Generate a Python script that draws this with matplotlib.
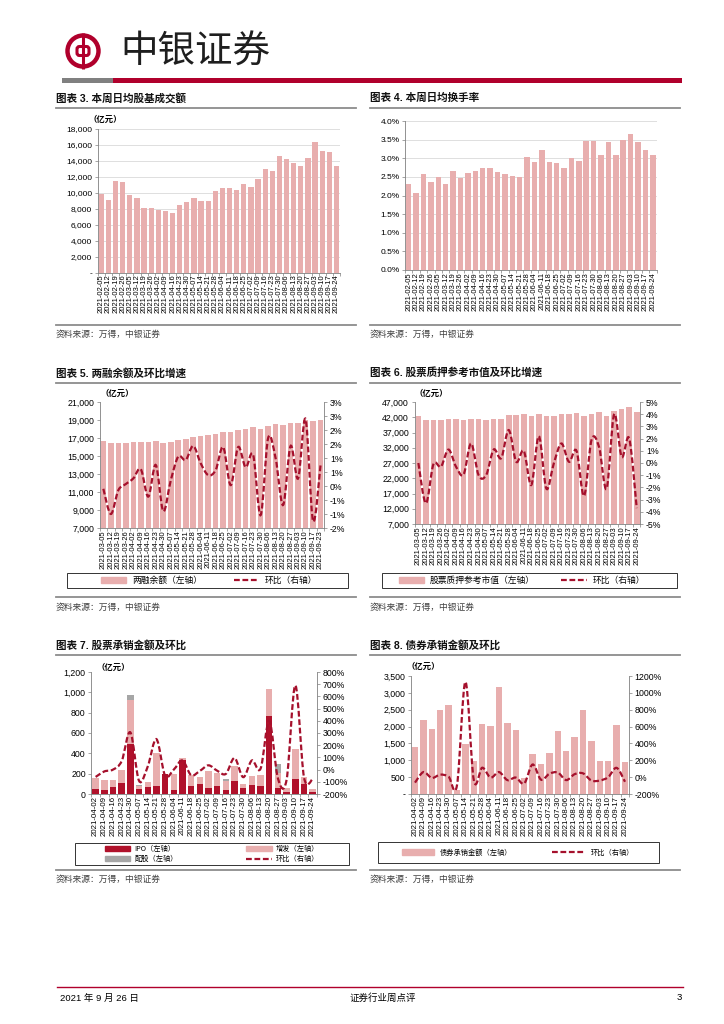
import numpy as np
import pandas as pd
import matplotlib
matplotlib.use('Agg')
import matplotlib.pyplot as plt
from matplotlib.path import Path
from matplotlib.patches import PathPatch, Patch, Rectangle, Circle, FancyBboxPatch
from matplotlib.lines import Line2D

plt.rcParams['font.family'] = ['Liberation Sans', 'Noto Sans CJK SC', 'DejaVu Sans']
CJK = ['Noto Sans CJK SC', 'DejaVu Sans']

# ---- data ----
weeks34 = [d.strftime('%Y-%m-%d') for d in pd.date_range('2021-02-05', periods=34, freq='7D')]
vol3 = [9800, 9100, 11500, 11300, 9700, 9400, 8100, 8100, 7800, 7700, 7500, 8500, 8900, 9400, 9000, 9000,
        10200, 10600, 10550, 10300, 11100, 10700, 11700, 13000, 12700, 14600, 14250, 13700, 13300, 14300,
        16400, 15300, 15100, 13400]
turn4 = [2.30, 2.08, 2.57, 2.35, 2.50, 2.30, 2.66, 2.48, 2.60, 2.66, 2.75, 2.73, 2.64, 2.58, 2.52, 2.51,
         3.03, 2.89, 3.23, 2.90, 2.86, 2.73, 3.01, 2.92, 3.45, 3.46, 3.08, 3.44, 3.09, 3.49, 3.66, 3.44,
         3.22, 3.10]

dates5 = [d.strftime('%Y-%m-%d') for d in pd.date_range('2021-03-05', periods=29, freq='7D')] + ['2021-09-23']
margin5 = [16700, 16500, 16500, 16500, 16550, 16600, 16600, 16700, 16500, 16550, 16800, 16900, 17100, 17250,
           17350, 17450, 17650, 17650, 17900, 18050, 18250, 18050, 18350, 18550, 18400, 18650, 18700, 19050,
           18900, 19000]
chg5 = [-0.1, -1.0, -0.15, 0.07, 0.27, 0.6, -0.38, 0.75, -0.9, 0.2, 1.05, 0.93, 1.43, 0.81, 0.39, 0.57,
        1.39, 0.03, 1.39, 0.67, 1.11, -1.04, 1.71, 0.99, -0.68, 1.43, 0.27, 2.39, -1.25, 0.75]
ticks5r = [-1.5, -1.0, -0.5, 0.0, 0.5, 1.0, 1.5, 2.0, 2.5, 3.0]
labels5r = ['-2%', '-1%', '-1%', '0%', '1%', '1%', '2%', '2%', '3%', '3%']

dates6 = [d.strftime('%Y-%m-%d') for d in pd.date_range('2021-03-05', periods=30, freq='7D')]
pledge6 = [42500, 41200, 41200, 41000, 41400, 41400, 41000, 41500, 41300, 41100, 41300, 41500, 42700, 42700,
           43000, 42300, 43200, 42300, 42300, 43000, 43000, 43500, 42300, 43000, 43600, 42500, 44200, 44600,
           45300, 43700]
chg6 = [0.0, -3.3, -0.1, -0.3, 1.1, -0.3, -0.95, 1.6, -1.0, -1.0, 1.1, 0.4, 2.7, 0.1, 1.0, -1.8, 2.2, -2.1,
        0.0, 1.6, 0.1, 1.0, -2.7, 1.9, 1.3, -2.1, 4.0, 0.5, 2.0, -3.7]

weeks26 = [d.strftime('%Y-%m-%d') for d in pd.date_range('2021-04-02', periods=26, freq='7D')]
ipo7 = [50, 40, 65, 110, 490, 45, 65, 75, 195, 35, 335, 80, 95, 60, 75, 35, 125, 60, 90, 80, 770, 60, 20, 145, 100, 20]
seo7 = [110, 100, 75, 130, 430, 30, 50, 325, 5, 165, 15, 110, 75, 170, 135, 95, 155, 40, 90, 110, 260, 150, 35, 295, 70, 25]
rights7 = [0, 0, 0, 0, 55, 15, 0, 0, 0, 0, 0, 0, 0, 0, 0, 15, 0, 0, 0, 0, 0, 85, 0, 0, 0, 0]
chg7 = [-60, -15, 0, 70, 305, -92, 25, 250, -50, 0, 75, -46, -11, 35, -9, -35, 95, -62, 75, 8, 400, -72, -82, 690, -62, -78]

bond8 = [1400, 2200, 1930, 2500, 2630, 120, 1490, 990, 2080, 2020, 3170, 2100, 1900, 480, 1200, 880, 1230,
         1880, 1270, 1680, 2490, 1560, 980, 980, 2050, 950]
chg8 = [-65, 60, -10, 30, 5, -95, 1130, -35, 112, -5, 60, -35, -5, -75, 150, -30, 40, 55, -35, 35, 45, -40,
        -40, 0, 110, -55]

# ---- style ----
W, H = 724, 1024
PINK = '#E8AEAE'
DARK = '#B0112B'
LINE = '#A5102C'
GREYBAR = '#A6A6A6'
AXC = '#808080'
DASH = (0, (2.6, 1.2))

fig = plt.figure(figsize=(W / 100, H / 100), dpi=100)


def rect(l, t, r, b):
    return [l / W, 1 - b / H, (r - l) / W, (b - t) / H]


def style(ax, labels, fs=5.5):
    n = len(labels)
    ax.set_xlim(-0.5, n - 0.5)
    ax.set_xticks(range(n))
    ax.set_xticklabels(labels, rotation=90, fontsize=fs)
    ax.set_xticks(np.arange(-0.5, n), minor=True)
    ax.tick_params(axis='x', which='major', length=0, pad=1.5)
    ax.tick_params(axis='x', which='minor', length=2.5, width=0.5, color=AXC)
    ax.tick_params(axis='y', length=2.5, width=0.5, color=AXC, labelsize=6, pad=1.5)
    for s in ['top', 'right']:
        ax.spines[s].set_visible(False)
    for s in ['left', 'bottom']:
        ax.spines[s].set_color(AXC)
        ax.spines[s].set_linewidth(0.6)


def twin(ax, ticks, labels, lo, hi):
    ax2 = ax.twinx()
    ax2.set_ylim(lo, hi)
    ax2.set_yticks(ticks)
    ax2.set_yticklabels(labels)
    ax2.tick_params(axis='y', length=2.5, width=0.5, color=AXC, labelsize=6, pad=1.5)
    ax2.spines['top'].set_visible(False)
    ax2.spines['left'].set_visible(False)
    ax2.spines['bottom'].set_visible(False)
    ax2.spines['right'].set_color(AXC)
    ax2.spines['right'].set_linewidth(0.6)
    return ax2


def smooth(ax, y, **kw):
    # Excel-style smoothed line drawn as cubic bezier segments through the data points
    x = np.arange(len(y), dtype=float)
    y = np.asarray(y, dtype=float)
    n = len(y)
    verts = [(x[0], y[0])]
    codes = [Path.MOVETO]
    for i in range(n - 1):
        a = max(i - 1, 0)
        d = min(i + 2, n - 1)
        verts.append((x[i] + (x[i + 1] - x[a]) / 6, y[i] + (y[i + 1] - y[a]) / 6))
        verts.append((x[i + 1] - (x[d] - x[i]) / 6, y[i + 1] - (y[d] - y[i]) / 6))
        verts.append((x[i + 1], y[i + 1]))
        codes += [Path.CURVE4] * 3
    ax.add_patch(PathPatch(Path(verts, codes), fill=False, **kw))


thousands = lambda v: '-' if v == 0 else f'{v:,}'

# Chart 3
ax = fig.add_axes(rect(97.8, 129, 340, 272.5))
ax.bar(range(len(vol3)), vol3, width=0.74, color=PINK)
style(ax, weeks34)
ax.set_ylim(0, 18000)
yt = list(range(0, 18001, 2000))
ax.set_yticks(yt)
ax.set_yticklabels([thousands(v) for v in yt])
ax.grid(axis='y', color='#D9D9D9', lw=0.6)
ax.set_axisbelow(True)

# Chart 4
ax = fig.add_axes(rect(405, 121, 656.5, 270))
ax.bar(range(len(turn4)), turn4, width=0.74, color=PINK)
style(ax, weeks34)
ax.set_ylim(0, 4.0)
yt = np.arange(0, 4.01, 0.5)
ax.set_yticks(yt)
ax.set_yticklabels([f'{v:.1f}%' for v in yt])
ax.grid(axis='y', color='#D9D9D9', lw=0.6)
ax.set_axisbelow(True)

# Chart 5
ax = fig.add_axes(rect(99.6, 402, 324.3, 528))
ax.bar(range(len(margin5)), margin5, width=0.74, color=PINK)
style(ax, dates5)
ax.set_ylim(7000, 21000)
yt = list(range(7000, 21001, 2000))
ax.set_yticks(yt)
ax.set_yticklabels([f'{v:,}' for v in yt], fontsize=6.3)
ax2 = twin(ax, ticks5r, labels5r, -1.5, 3.0)
ax2.tick_params(axis='y', labelsize=6.3)
smooth(ax2, chg5, ec=LINE, lw=1.6, ls=DASH)
ax.legend(handles=[Patch(color=PINK, label='两融余额（左轴）'),
                   Line2D([], [], color=LINE, lw=1.6, ls=DASH, label='环比（右轴）')],
          loc='center', bbox_to_anchor=(209 / W, 1 - 580.5 / H), bbox_transform=fig.transFigure,
          ncol=2, frameon=False, prop={'family': CJK, 'size': 6.3}, handlelength=2.9, handleheight=0.6,
          handletextpad=0.7, columnspacing=3.6, borderpad=0)

# Chart 6
ax = fig.add_axes(rect(414.6, 402, 640.5, 524))
ax.bar(range(len(pledge6)), pledge6, width=0.74, color=PINK)
style(ax, dates6)
ax.set_ylim(7000, 47000)
yt = list(range(7000, 47001, 5000))
ax.set_yticks(yt)
ax.set_yticklabels([f'{v:,}' for v in yt], fontsize=6.3)
ax2 = twin(ax, list(range(-5, 6)), [f'{v}%' for v in range(-5, 6)], -5, 5)
ax2.tick_params(axis='y', labelsize=6.3)
smooth(ax2, chg6, ec=LINE, lw=1.6, ls=DASH)
ax.legend(handles=[Patch(color=PINK, label='股票质押参考市值（左轴）'),
                   Line2D([], [], color=LINE, lw=1.6, ls=DASH, label='环比（右轴）')],
          loc='center', bbox_to_anchor=(522 / W, 1 - 580.5 / H), bbox_transform=fig.transFigure,
          ncol=2, frameon=False, prop={'family': CJK, 'size': 6.3}, handlelength=2.9, handleheight=0.6,
          handletextpad=0.7, columnspacing=3.0, borderpad=0)

# Chart 7
ax = fig.add_axes(rect(91.3, 672, 317, 794))
x7 = np.arange(len(ipo7))
b1 = np.array(ipo7)
b2 = b1 + np.array(seo7)
ax.bar(x7, ipo7, width=0.74, color=DARK)
ax.bar(x7, seo7, bottom=b1, width=0.74, color=PINK)
ax.bar(x7, rights7, bottom=b2, width=0.74, color=GREYBAR)
style(ax, weeks26, fs=5.7)
ax.set_ylim(0, 1200)
yt = list(range(0, 1201, 200))
ax.set_yticks(yt)
ax.set_yticklabels([f'{v:,}' for v in yt], fontsize=6.3)
ax2 = twin(ax, list(range(-200, 801, 100)), [f'{v}%' for v in range(-200, 801, 100)], -200, 800)
ax2.tick_params(axis='y', labelsize=6.3)
smooth(ax2, chg7, ec=LINE, lw=1.6, ls=DASH)
ax.legend(handles=[Patch(color=DARK, label='IPO（左轴）'),
                   Patch(color=GREYBAR, label='配股（左轴）'),
                   Patch(color=PINK, label='增发（左轴）'),
                   Line2D([], [], color=LINE, lw=1.6, ls=DASH, label='环比（右轴）')],
          loc='center', bbox_to_anchor=(212 / W, 1 - 854 / H), bbox_transform=fig.transFigure,
          ncol=2, frameon=False, prop={'family': CJK, 'size': 5.2}, handlelength=3.5, handleheight=0.7,
          handletextpad=0.6, columnspacing=9.5, borderpad=0, labelspacing=0.35)

# Chart 8
ax = fig.add_axes(rect(410.8, 676, 629.2, 794))
ax.bar(range(len(bond8)), bond8, width=0.74, color=PINK)
style(ax, weeks26, fs=5.7)
ax.set_ylim(0, 3500)
yt = list(range(0, 3501, 500))
ax.set_yticks(yt)
ax.set_yticklabels([thousands(v) for v in yt], fontsize=6.3)
ax2 = twin(ax, list(range(-200, 1201, 200)), [f'{v}%' for v in range(-200, 1201, 200)], -200, 1200)
ax2.tick_params(axis='y', labelsize=6.3)
smooth(ax2, chg8, ec=LINE, lw=1.6, ls=DASH)
ax.legend(handles=[Patch(color=PINK, label='债券承销金额（左轴）'),
                   Line2D([], [], color=LINE, lw=1.6, ls=DASH, label='环比（右轴）')],
          loc='center', bbox_to_anchor=(518 / W, 1 - 852.5 / H), bbox_transform=fig.transFigure,
          ncol=2, frameon=False, prop={'family': CJK, 'size': 5.2}, handlelength=4.5, handleheight=0.7,
          handletextpad=0.8, columnspacing=5.5, borderpad=0)

# ---- page decorations (pixel coordinates) ----
deco = fig.add_axes([0, 0, 1, 1])
deco.set_xlim(0, W)
deco.set_ylim(H, 0)
deco.axis('off')
deco.patch.set_alpha(0)

deco.add_patch(Rectangle((62, 77.5), 51, 5, color='#808080', lw=0))
deco.add_patch(Rectangle((113, 77.5), 569, 5, color='#B0002C', lw=0))
deco.add_patch(Circle((83, 51), 15.5, fill=False, ec='#B0002C', lw=3.2))
deco.add_patch(FancyBboxPatch((77, 46.5), 12, 9, boxstyle='round,pad=0,rounding_size=2.5',
                              fill=False, ec='#B0002C', lw=2.2))
deco.plot([83, 83], [33, 69], color='#B0002C', lw=2.2, solid_capstyle='butt')
deco.text(120, 52, '中银证券', fontsize=27, va='center', ha='left', family=CJK,
          fontweight='medium', color='#1E1E1E')

titles = [(56, 98, '图表 3. 本周日均股基成交额'), (370, 98, '图表 4. 本周日均换手率'),
          (56, 373, '图表 5. 两融余额及环比增速'), (370, 373, '图表 6. 股票质押参考市值及环比增速'),
          (56, 645, '图表 7. 股票承销金额及环比'), (370, 645, '图表 8. 债券承销金额及环比')]
for x, y, t in titles:
    deco.text(x, y, t, fontsize=7.6, fontweight='bold', va='center', ha='left', color='#111111')

for y in [108, 325, 383, 597, 655, 870]:
    deco.plot([56, 356], [y, y], color='#8C8C8C', lw=1.3)
    deco.plot([370, 680], [y, y], color='#8C8C8C', lw=1.3)

for x, y in [(56, 334), (370, 334), (56, 607), (370, 607), (56, 879), (370, 879)]:
    deco.text(x, y, '资料来源：万得，中银证券', fontsize=6.3, va='center', ha='left', color='#404040', family=CJK)

for x, y in [(89, 119), (100, 393), (414, 393), (97, 667), (407, 666)]:
    deco.text(x, y, '（亿元）', fontsize=6, fontweight='bold', va='center', ha='left', family=CJK)

deco.add_patch(Rectangle((67, 573), 281, 15, fill=False, ec='#333333', lw=0.7))
deco.add_patch(Rectangle((382, 573), 295, 15, fill=False, ec='#333333', lw=0.7))
deco.add_patch(Rectangle((75, 843), 274, 22, fill=False, ec='#333333', lw=0.7))
deco.add_patch(Rectangle((378, 842), 281, 21, fill=False, ec='#333333', lw=0.7))

deco.plot([57, 683], [987, 987], color='#B0002C', lw=1.0)
deco.text(60, 998, '2021 年 9 月 26 日', fontsize=6.8, va='center', ha='left')
deco.text(383, 998, '证券行业周点评', fontsize=6.8, va='center', ha='center', family=CJK)
deco.text(682, 998, '3', fontsize=6.8, va='center', ha='right')

fig.savefig('out.png', dpi=100)
